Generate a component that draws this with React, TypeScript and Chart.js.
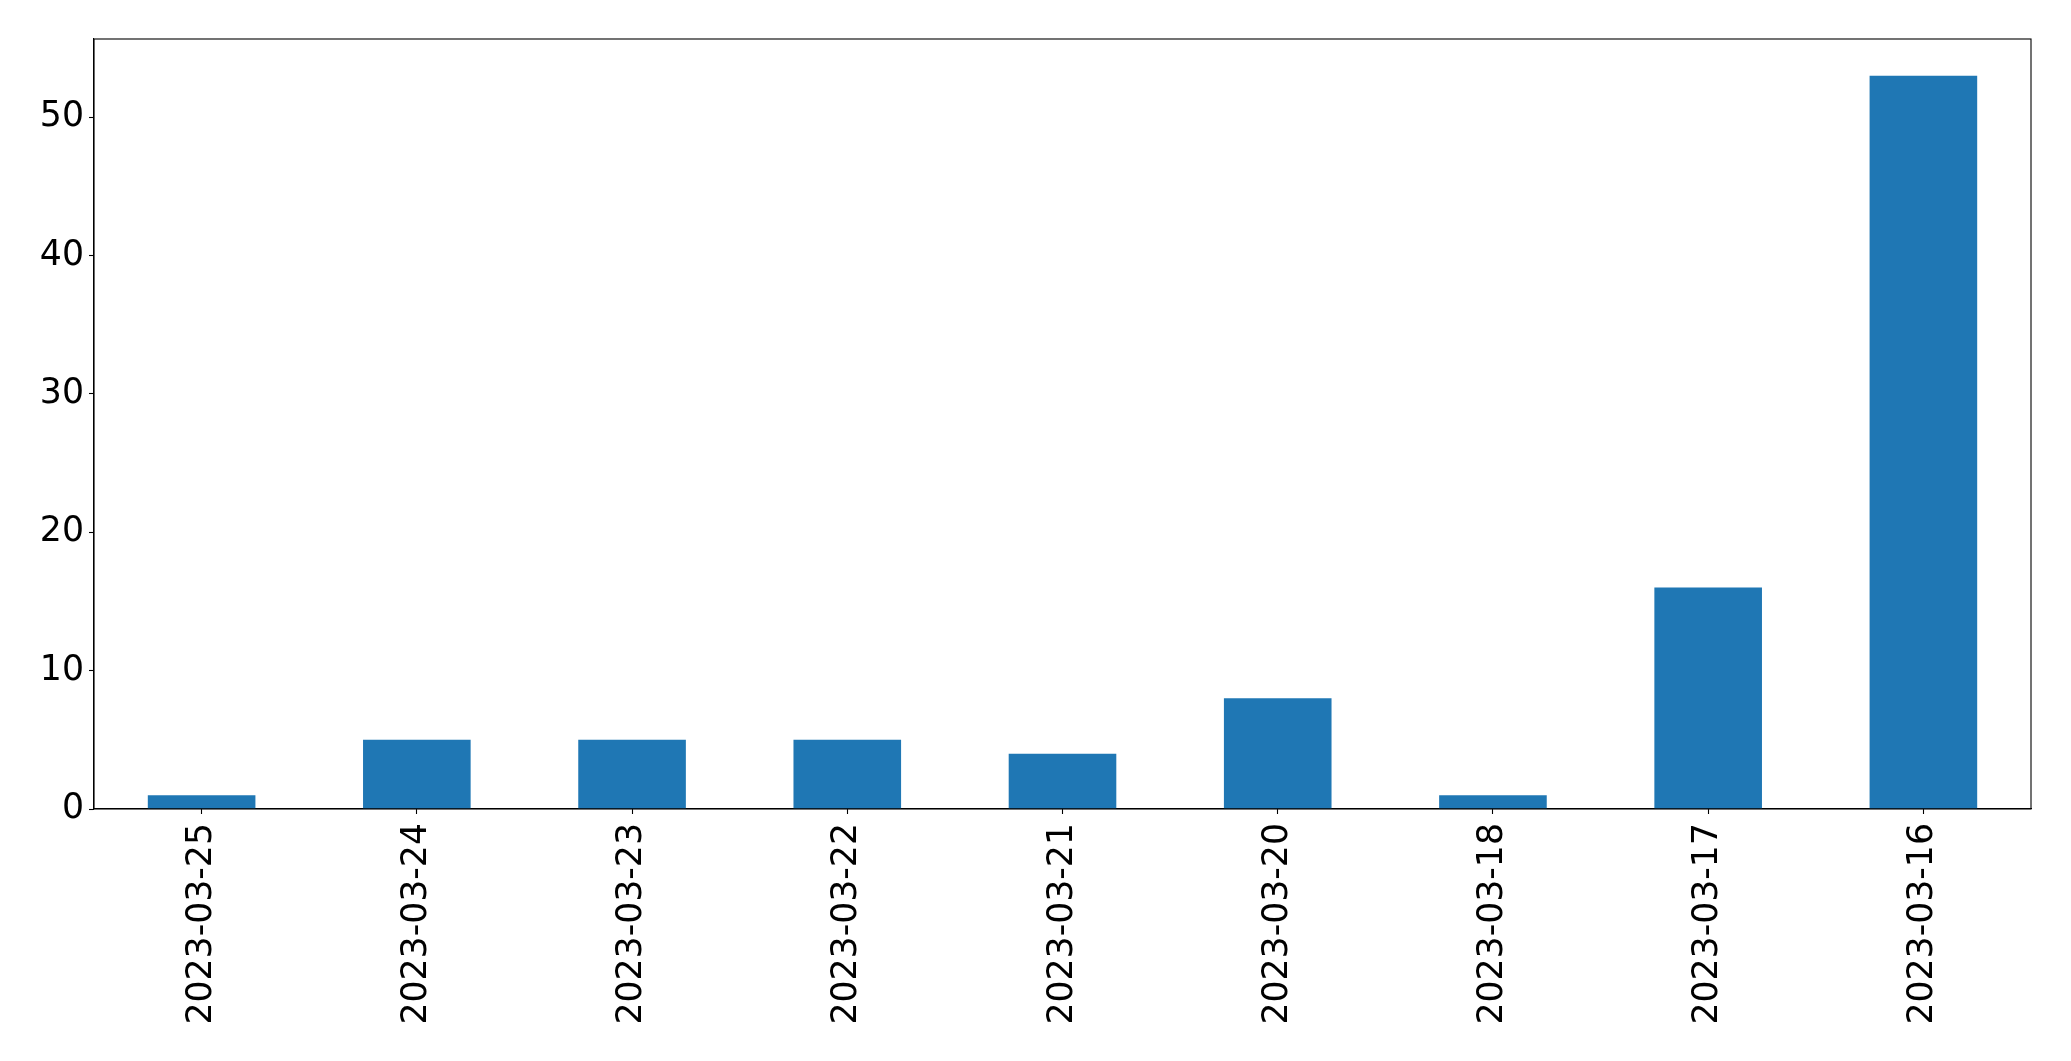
import React, { useEffect, useRef } from "react";
import { Chart, registerables } from "chart.js";

Chart.register(...registerables);

const categories = [
  "2023-03-25",
  "2023-03-24",
  "2023-03-23",
  "2023-03-22",
  "2023-03-21",
  "2023-03-20",
  "2023-03-18",
  "2023-03-17",
  "2023-03-16",
];
const counts = [1, 5, 5, 5, 4, 8, 1, 16, 53];
const yTicks = [0, 10, 20, 30, 40, 50];
const yMax = 55.65;

const W = 2071;
const H = 1061;

const frame = {
  id: "frame",
  afterDraw(chart: any) {
    const { ctx, chartArea } = chart;
    ctx.save();
    ctx.strokeStyle = "#000";
    ctx.lineWidth = 1.1;
    ctx.strokeRect(chartArea.left, chartArea.top, chartArea.right - chartArea.left, chartArea.bottom - chartArea.top);
    ctx.restore();
  },
};

export default function App() {
  const ref = useRef<HTMLCanvasElement | null>(null);
  useEffect(() => {
    if (!ref.current) return;
    const font = { family: "'DejaVu Sans', sans-serif", size: 34.7 };
    const chart = new Chart(ref.current, {
      type: "bar",
      data: {
        labels: categories,
        datasets: [
          {
            data: counts,
            backgroundColor: "#1f77b4",
            borderWidth: 0,
            barPercentage: 0.5,
            categoryPercentage: 1,
          },
        ],
      },
      options: {
        responsive: false,
        animation: false,
        events: [],
        layout: { padding: { top: 39, right: 40, left: 0, bottom: 0 } },
        plugins: { legend: { display: false }, tooltip: { enabled: false }, title: { display: false } },
        scales: {
          x: {
            offset: true,
            grid: { display: true, drawOnChartArea: false, tickLength: 5, tickColor: "#000", tickWidth: 1.1, offset: false },
            border: { display: true, color: "#000", width: 1.1 },
            ticks: { color: "#000", font, minRotation: 90, maxRotation: 90, padding: 9, autoSkip: false },
            afterFit: (s: any) => {
              s.height = 252;
            },
          },
          y: {
            min: 0,
            max: yMax,
            grid: { display: true, drawOnChartArea: false, tickLength: 5, tickColor: "#000", tickWidth: 1.1 },
            border: { display: true, color: "#000", width: 1.1 },
            ticks: { color: "#000", font, padding: 5 },
            afterBuildTicks: (s: any) => {
              s.ticks = yTicks.map((v) => ({ value: v }));
            },
            afterFit: (s: any) => {
              s.width = 94;
            },
          },
        },
      },
      plugins: [frame],
    });
    return () => chart.destroy();
  }, []);
  return (
    <div style={{ position: "absolute", left: 0, top: 0, width: W, height: H, background: "#fff" }}>
      <canvas ref={ref} width={W} height={H} style={{ display: "block", width: W, height: H }} />
    </div>
  );
}
